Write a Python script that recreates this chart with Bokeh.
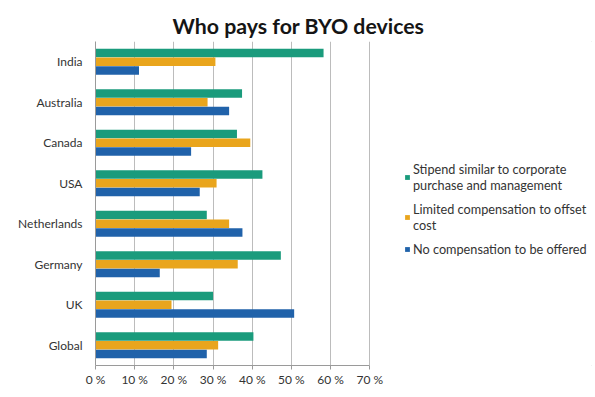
from bokeh.plotting import figure
from bokeh.models import FactorRange, Range1d, FixedTicker, Legend, LegendItem, ColumnDataSource
from bokeh.transform import dodge
from bokeh.embed import file_html
from bokeh.resources import INLINE

# ---- data ----
countries = ["India", "Australia", "Canada", "USA", "Netherlands", "Germany", "UK", "Global"]
stipend = [58.2, 37.4, 36.1, 42.6, 28.4, 47.3, 30.0, 40.3]
limited = [30.6, 28.6, 39.5, 30.9, 34.1, 36.3, 19.4, 31.3]
no_comp = [11.1, 34.1, 24.4, 26.6, 37.5, 16.4, 50.7, 28.4]
series_labels = [
    "Stipend similar to corporate\npurchase and management",
    "Limited compensation to offset\ncost",
    "No compensation to be offered",
]
series_colors = ["#1a9b7c", "#e9a51d", "#2062aa"]
tick_values = [0, 10, 20, 30, 40, 50, 60, 70]
tick_labels = ["0 %", "10 %", "20 %", "30 %", "40 %", "50 %", "60 %", "70 %"]
title_text = "Who pays for BYO devices"

FONT = "Lato"

src = ColumnDataSource(dict(country=countries, stipend=stipend, limited=limited, no_comp=no_comp))

# frame spans to the right edge so the legend (drawn inside the frame) is not clipped;
# the visible axis/grid stops at 70 %
p = figure(
    width=595, height=397,
    x_range=Range1d(0, 127.6),
    y_range=FactorRange(factors=list(reversed(countries)), range_padding=0),
    output_backend="svg", toolbar_location=None,
    min_border_left=95, min_border_right=0, min_border_top=41, min_border_bottom=32,
)
p.outline_line_color = None
p.background_fill_color = "white"
p.border_fill_color = "white"
p.styles = {"outline": "1px solid #c6c6c6", "outline-offset": "-4px"}

bh = 0.21
offsets = [0.215, 0.0, -0.215]
fields = ["stipend", "limited", "no_comp"]
renderers = []
for f, off, col in zip(fields, offsets, series_colors):
    r = p.hbar(y=dodge("country", off, range=p.y_range), right=f, left=0, height=bh,
               source=src, fill_color=col, line_color=None)
    renderers.append(r)

# axes
p.xaxis.ticker = FixedTicker(ticks=tick_values)
p.xaxis.bounds = (tick_values[0], tick_values[-1])
p.xaxis.major_label_overrides = {v: t for v, t in zip(tick_values, tick_labels)}
p.xaxis.axis_line_color = "#9a9a9a"
p.xaxis.major_tick_line_color = "#9a9a9a"
p.xaxis.major_tick_out = 4
p.xaxis.major_tick_in = 0
p.xaxis.minor_tick_line_color = None
p.xaxis.major_label_standoff = 2
p.xaxis.major_label_text_font = FONT
p.xaxis.major_label_text_font_size = "12px"
p.xaxis.major_label_text_color = "#333333"

p.yaxis.axis_line_color = "#9a9a9a"
p.yaxis.major_tick_line_color = None
p.yaxis.major_tick_out = 0
p.yaxis.minor_tick_line_color = None
p.yaxis.major_label_standoff = 13
p.yaxis.major_label_text_font = FONT
p.yaxis.major_label_text_font_size = "12px"
p.yaxis.major_label_text_color = "#333333"

p.ygrid.grid_line_color = None
p.xgrid.grid_line_color = "#bcbcbc"
p.xgrid.grid_line_width = 1

# title
p.title.text = title_text
p.title.align = "left"
p.title.offset = 77
p.title.standoff = 6
p.title.text_font = FONT
p.title.text_font_style = "bold"
p.title.text_font_size = "21.3px"
p.title.text_color = "#151515"

# legend
legend = Legend(
    items=[LegendItem(label=l, renderers=[r]) for l, r in zip(series_labels, renderers)],
    location=(309, 108),
    glyph_width=6, glyph_height=6,
    label_text_font=FONT, label_text_font_size="12.7px", label_text_color="#333333",
    label_standoff=3, spacing=8, padding=0, margin=0,
    border_line_color=None, background_fill_alpha=0,
)
p.add_layout(legend)

open("out.html", "w").write(file_html(p, INLINE))
